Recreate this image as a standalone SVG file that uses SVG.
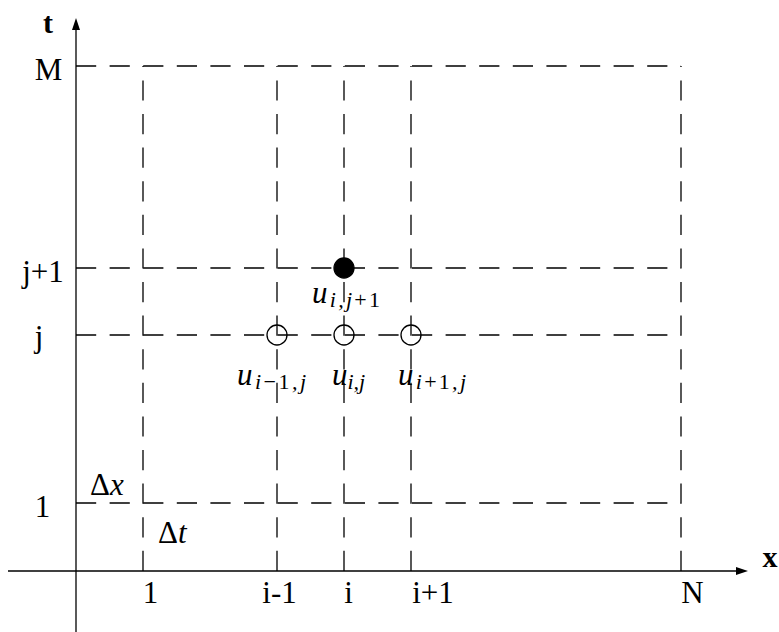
<svg xmlns="http://www.w3.org/2000/svg" width="779" height="632" viewBox="0 0 779 632">
  <style>
    .grid { stroke: #000; stroke-width: 1.3; stroke-dasharray: 20.2 13.4; fill: none; }
    .axis { stroke: #000; stroke-width: 1.3; fill: none; }
    .lbl { font-family: "Liberation Serif", "Times New Roman", serif; font-size: 31px; fill: #000; }
    .math { font-family: "Liberation Serif", "Times New Roman", serif; font-size: 31px; font-style: italic; fill: #000; }
    .sub { font-size: 22px; }
    .up { font-style: normal; }
    .bold { font-family: "Liberation Serif", "Times New Roman", serif; font-size: 30px; font-weight: bold; fill: #000; }
    .open { fill: #fff; fill-opacity: 0; stroke: #000; stroke-width: 1.3; }
    .filled { fill: #000; stroke: #000; stroke-width: 1.3; }
  </style>
  <defs>
    <marker id="arrow" markerUnits="userSpaceOnUse" viewBox="0 0 12 8" refX="4" refY="4" markerWidth="12" markerHeight="8" orient="auto">
      <path d="M0,0 L12,4 L0,8 z" fill="#000"/>
    </marker>
  </defs>

  <g id="connectors">
    <line class="grid" x1="76" y1="66" x2="681" y2="66"/>
    <line class="grid" x1="76" y1="268" x2="681" y2="268"/>
    <line class="grid" x1="76" y1="335" x2="681" y2="335"/>
    <line class="grid" x1="76" y1="503" x2="681" y2="503"/>
    <line class="grid" x1="143" y1="571" x2="143" y2="66"/>
    <line class="grid" x1="277" y1="571" x2="277" y2="66"/>
    <line class="grid" x1="344" y1="571" x2="344" y2="66"/>
    <line class="grid" x1="411" y1="571" x2="411" y2="66"/>
    <line class="grid" x1="681" y1="571" x2="681" y2="66"/>
    <line class="axis" x1="76" y1="632" x2="76" y2="26" marker-end="url(#arrow)"/>
    <line class="axis" x1="8" y1="571" x2="740" y2="571" marker-end="url(#arrow)"/>
  </g>

  <g id="axis-labels">
    <text class="bold" x="48" y="33" text-anchor="middle">t</text>
    <text class="bold" x="770" y="567" text-anchor="middle">x</text>
  </g>

  <g id="t-ticks">
    <text class="lbl" x="48.5" y="80" text-anchor="middle">M</text>
    <text class="lbl" x="43" y="282" text-anchor="middle">j+1</text>
    <text class="lbl" x="39" y="347" text-anchor="middle">j</text>
    <text class="lbl" x="42.5" y="517" text-anchor="middle">1</text>
  </g>

  <g id="x-ticks">
    <text class="lbl" x="150.5" y="603" text-anchor="middle">1</text>
    <text class="lbl" x="279.5" y="603" text-anchor="middle">i-1</text>
    <text class="lbl" x="348.5" y="603" text-anchor="middle">i</text>
    <text class="lbl" x="433" y="603" text-anchor="middle">i+1</text>
    <text class="lbl" x="692.5" y="603" text-anchor="middle">N</text>
  </g>

  <g id="steps">
    <text class="lbl" x="90" y="495">Δ<tspan class="math">x</tspan></text>
    <text class="lbl" x="158" y="543">Δ<tspan class="math">t</tspan></text>
  </g>

  <g id="node-u-i-jp1">
    <circle class="filled" cx="344" cy="268" r="10"/>
    <text class="math" x="312" y="303" textLength="68" lengthAdjust="spacing">u<tspan class="sub" dy="4">i,j<tspan class="up">+1</tspan></tspan></text>
  </g>

  <g id="node-u-im1-j">
    <circle class="open" cx="277" cy="335" r="10"/>
    <text class="math" x="237" y="385" textLength="69" lengthAdjust="spacing">u<tspan class="sub" dy="4">i<tspan class="up">−1</tspan>,j</tspan></text>
  </g>

  <g id="node-u-i-j">
    <circle class="open" cx="344" cy="335" r="10"/>
    <text class="math" x="332" y="385">u<tspan class="sub" dy="4">i,j</tspan></text>
  </g>

  <g id="node-u-ip1-j">
    <circle class="open" cx="411" cy="335" r="10"/>
    <text class="math" x="398" y="385" textLength="68" lengthAdjust="spacing">u<tspan class="sub" dy="4">i<tspan class="up">+1</tspan>,j</tspan></text>
  </g>
</svg>
